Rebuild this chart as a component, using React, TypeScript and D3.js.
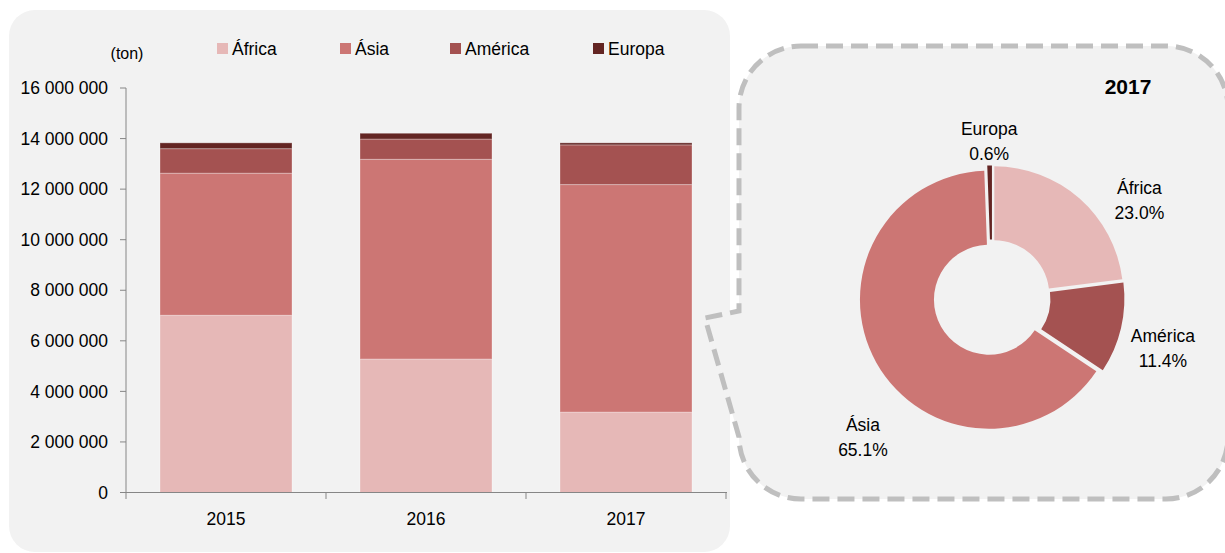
import * as d3 from 'd3';

const years = ['2015', '2016', '2017'];
const regions = ['África', 'Ásia', 'América', 'Europa'];
const africa = [7010000, 5280000, 3180000];
const asia = [5620000, 7900000, 9000000];
const america = [970000, 800000, 1570000];
const europa = [230000, 230000, 80000];
const yTicks = [0, 2000000, 4000000, 6000000, 8000000, 10000000, 12000000, 14000000, 16000000];
const donutYear = '2017';
const donutOrder = ['África', 'América', 'Ásia', 'Europa'];

const colors: Record<string, string> = {
    'África': '#e6b8b7',
    'Ásia': '#cc7674',
    'América': '#a45251',
    'Europa': '#632523',
};

// where excel put the donut labels (angle nudge in degrees, radius in px)
const labelPlace: Record<string, { da: number; r: number }> = {
    'África': { da: 15, r: 177 },
    'América': { da: 3, r: 178 },
    'Ásia': { da: -18, r: 190 },
    'Europa': { da: 0, r: 157 },
};

const font = '"Liberation Sans", Arial, sans-serif';
const fmt = (v: number) => d3.format(',')(v).replace(/,/g, ' ');

function BarChart() {
    const x = d3.scaleBand<string>().domain(years).range([126, 726]).paddingInner(0.34).paddingOuter(0.17);
    const y = d3.scaleLinear().domain([0, 16000000]).range([492.5, 88]);

    const rows = years.map((yr, i) => ({
        year: yr,
        'África': africa[i],
        'Ásia': asia[i],
        'América': america[i],
        'Europa': europa[i],
    }));
    const series = d3.stack<any>().keys(regions)(rows);

    const legendX = [217, 340, 450, 593];

    return (
        <g>
            <rect x={9} y={10} width={721} height={542} rx={26} fill="#f2f2f2" />
            <text x={127} y={59} fontSize={16} textAnchor="middle" fontFamily={font} fill="#000">
                (ton)
            </text>
            {regions.map((r, i) => (
                <g key={r} transform={`translate(${legendX[i]},43)`}>
                    <rect width={11} height={11} fill={colors[r]} />
                    <text x={15} y={12} fontSize={17.5} fontFamily={font} fill="#000">
                        {r}
                    </text>
                </g>
            ))}
            {series.map((s) => (
                <g key={s.key} fill={colors[s.key]}>
                    {s.map((d, i) => (
                        <rect
                            key={i}
                            x={x(years[i])}
                            width={x.bandwidth()}
                            y={y(d[1])}
                            height={y(d[0]) - y(d[1])}
                            stroke="rgba(255,255,255,0.3)"
                            strokeWidth={1}
                        />
                    ))}
                </g>
            ))}
            <line x1={126} x2={126} y1={88} y2={492.5} stroke="#868686" />
            {yTicks.map((t) => (
                <g key={t} transform={`translate(0,${y(t)})`}>
                    <line x1={120} x2={126} stroke="#868686" />
                    <text x={108} dy="0.35em" fontSize={17.5} textAnchor="end" fontFamily={font} fill="#000">
                        {fmt(t)}
                    </text>
                </g>
            ))}
            <line x1={126} x2={727} y1={492.5} y2={492.5} stroke="#868686" />
            {[0, 1, 2, 3].map((i) => (
                <line key={i} x1={126 + x.step() * i} x2={126 + x.step() * i} y1={492.5} y2={499} stroke="#868686" />
            ))}
            {years.map((yr) => (
                <text
                    key={yr}
                    x={(x(yr) ?? 0) + x.bandwidth() / 2}
                    y={525}
                    fontSize={17.5}
                    textAnchor="middle"
                    fontFamily={font}
                    fill="#000"
                >
                    {yr}
                </text>
            ))}
        </g>
    );
}

function Donut() {
    const idx = years.indexOf(donutYear);
    const valueOf: Record<string, number> = {
        'África': africa[idx],
        'Ásia': asia[idx],
        'América': america[idx],
        'Europa': europa[idx],
    };
    const data = donutOrder.map((k) => ({ key: k, value: valueOf[k] }));
    const total = d3.sum(data, (d) => d.value);
    const pie = d3.pie<any>().sort(null).value((d) => d.value);
    const arcs = pie(data);
    const arc = d3.arc<any>().innerRadius(55).outerRadius(129);
    const cx = 992;
    const cy = 298;
    const explode = 3.5;

    const callout =
        'M801,46 H1166 A62,62 0 0 1 1228,108 V437 A62,62 0 0 1 1166,499 H801 ' +
        'A62,62 0 0 1 739,437 L705,318 L739,311 V108 A62,62 0 0 1 801,46 Z';

    return (
        <g>
            <path
                d={callout}
                fill="#f2f2f2"
                stroke="#bfbfbf"
                strokeWidth={5}
                strokeDasharray="17 8"
            />
            <text x={1128} y={94} fontSize={21} fontWeight="bold" textAnchor="middle" fontFamily={font} fill="#000">
                {donutYear}
            </text>
            <g transform={`translate(${cx},${cy})`}>
                {arcs.map((a) => {
                    const mid = (a.startAngle + a.endAngle) / 2;
                    const dx = explode * Math.sin(mid);
                    const dy = -explode * Math.cos(mid);
                    return (
                        <path
                            key={a.data.key}
                            d={arc(a) ?? ''}
                            transform={`translate(${dx},${dy})`}
                            fill={colors[a.data.key]}
                        />
                    );
                })}
                {arcs.map((a) => {
                    const p = labelPlace[a.data.key];
                    const ang = (a.startAngle + a.endAngle) / 2 + (p.da * Math.PI) / 180;
                    const lx = p.r * Math.sin(ang);
                    const ly = -p.r * Math.cos(ang);
                    return (
                        <text
                            key={a.data.key}
                            x={lx}
                            y={ly}
                            fontSize={17.5}
                            textAnchor="middle"
                            fontFamily={font}
                            fill="#000"
                        >
                            <tspan x={lx} dy={-6}>
                                {a.data.key}
                            </tspan>
                            <tspan x={lx} dy={25}>
                                {((a.data.value / total) * 100).toFixed(1)}%
                            </tspan>
                        </text>
                    );
                })}
            </g>
        </g>
    );
}

export default function App() {
    return (
        <svg
            width={1225}
            height={553}
            viewBox="0 0 1225 553"
            style={{ position: 'absolute', left: 0, top: 0, display: 'block', background: '#fff' }}
        >
            <BarChart />
            <Donut />
        </svg>
    );
}
